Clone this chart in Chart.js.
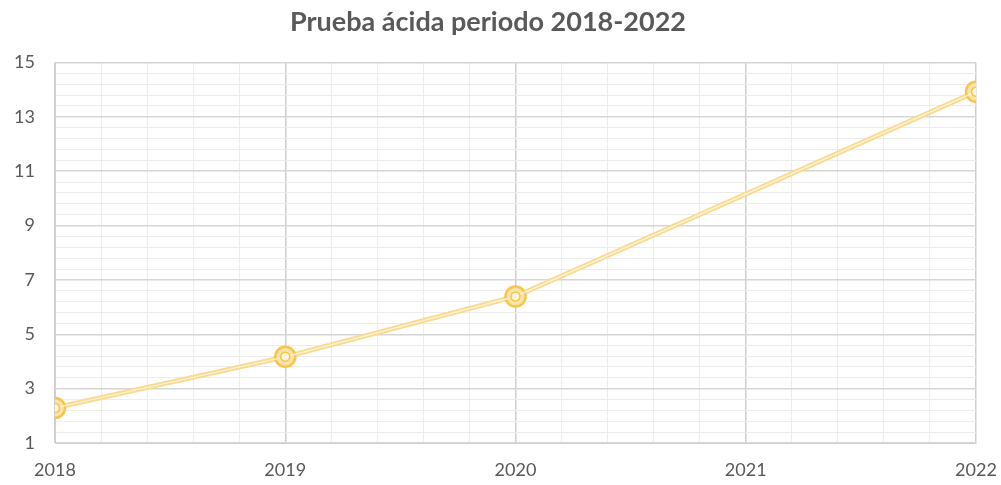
<!DOCTYPE html>
<html>
<head>
<meta charset="utf-8">
<script src="https://cdn.jsdelivr.net/npm/chart.js@4"></script>
<style>
    body { margin: 0; background: #fff; }
    #wrap { width: 1001px; height: 485px; }
</style>
</head>
<body>
<div id="wrap"><canvas id="acidChart"></canvas></div>
<script>
// no marker at 2021 in the original, so only these four points exist
const years = [2018, 2019, 2020, 2022];
const acidTest = [2.29, 4.17, 6.39, 13.92];
const xTicks = [2018, 2019, 2020, 2021, 2022];
const yTicks = [1, 3, 5, 7, 9, 11, 13, 15];

const points = years.map((yr, i) => ({ x: yr, y: acidTest[i] }));

const isWhole = v => Math.abs(v - Math.round(v)) < 1e-6;
const isMajorY = v => yTicks.some(t => Math.abs(t - v) < 1e-6);

const ctx = document.getElementById("acidChart").getContext("2d");

new Chart(ctx, {
    type: "line",
    data: {
        datasets: [{
            // outer stroke of the double line
            data: points,
            order: 2,
            borderColor: "#f8da90",
            borderWidth: 5,
            pointRadius: 10,
            pointBorderWidth: 2.5,
            pointBorderColor: "#f7c54c",
            pointBackgroundColor: "#fbe6a8",
            tension: 0
        }, {
            // pale inner stroke
            data: points,
            order: 1,
            borderColor: "#fdf2d2",
            borderWidth: 1.4,
            pointRadius: 4.5,
            pointBorderWidth: 1.6,
            pointBorderColor: "#f7c54c",
            pointBackgroundColor: "#fdf4da",
            tension: 0
        }]
    },
    options: {
        responsive: true,
        maintainAspectRatio: false,
        animation: false,
        layout: { padding: { left: 0, right: 25, top: 4, bottom: 0 } },
        plugins: {
            legend: { display: false },
            tooltip: { enabled: false },
            title: {
                display: true,
                text: "Prueba ácida periodo 2018-2022",
                color: "#595959",
                font: { family: "Lato", size: 27, weight: "bold" },
                padding: { top: 2, bottom: 24 }
            }
        },
        scales: {
            x: {
                type: "linear",
                min: xTicks[0],
                max: xTicks[xTicks.length - 1],
                border: { color: "#d0d0d0" },
                afterFit: scale => {
                    scale.height = 42;
                    scale.paddingRight = 0;
                },
                grid: {
                    drawTicks: false,
                    color: c => isWhole(c.tick.value) ? "#cfcfcf" : "#ededed",
                    lineWidth: c => isWhole(c.tick.value) ? 1.5 : 1
                },
                ticks: {
                    stepSize: 0.2,
                    autoSkip: false,
                    maxRotation: 0,
                    padding: 16,
                    color: "#595959",
                    font: { family: "Lato", size: 18 },
                    callback: v => isWhole(v) ? String(Math.round(v)) : ""
                }
            },
            y: {
                min: yTicks[0],
                max: yTicks[yTicks.length - 1],
                border: { color: "#d0d0d0" },
                afterFit: scale => { scale.width = 55; },
                grid: {
                    drawTicks: false,
                    color: c => isMajorY(c.tick.value) ? "#d6d6d6" : "#ececec",
                    lineWidth: c => isMajorY(c.tick.value) ? 1.5 : 1
                },
                ticks: {
                    stepSize: 0.4,
                    autoSkip: false,
                    padding: 20,
                    color: "#595959",
                    font: { family: "Lato", size: 18 },
                    callback: v => {
                        const t = yTicks.find(t => Math.abs(t - v) < 1e-6);
                        return t !== undefined ? String(t) : "";
                    }
                }
            }
        }
    }
});
</script>
</body>
</html>
